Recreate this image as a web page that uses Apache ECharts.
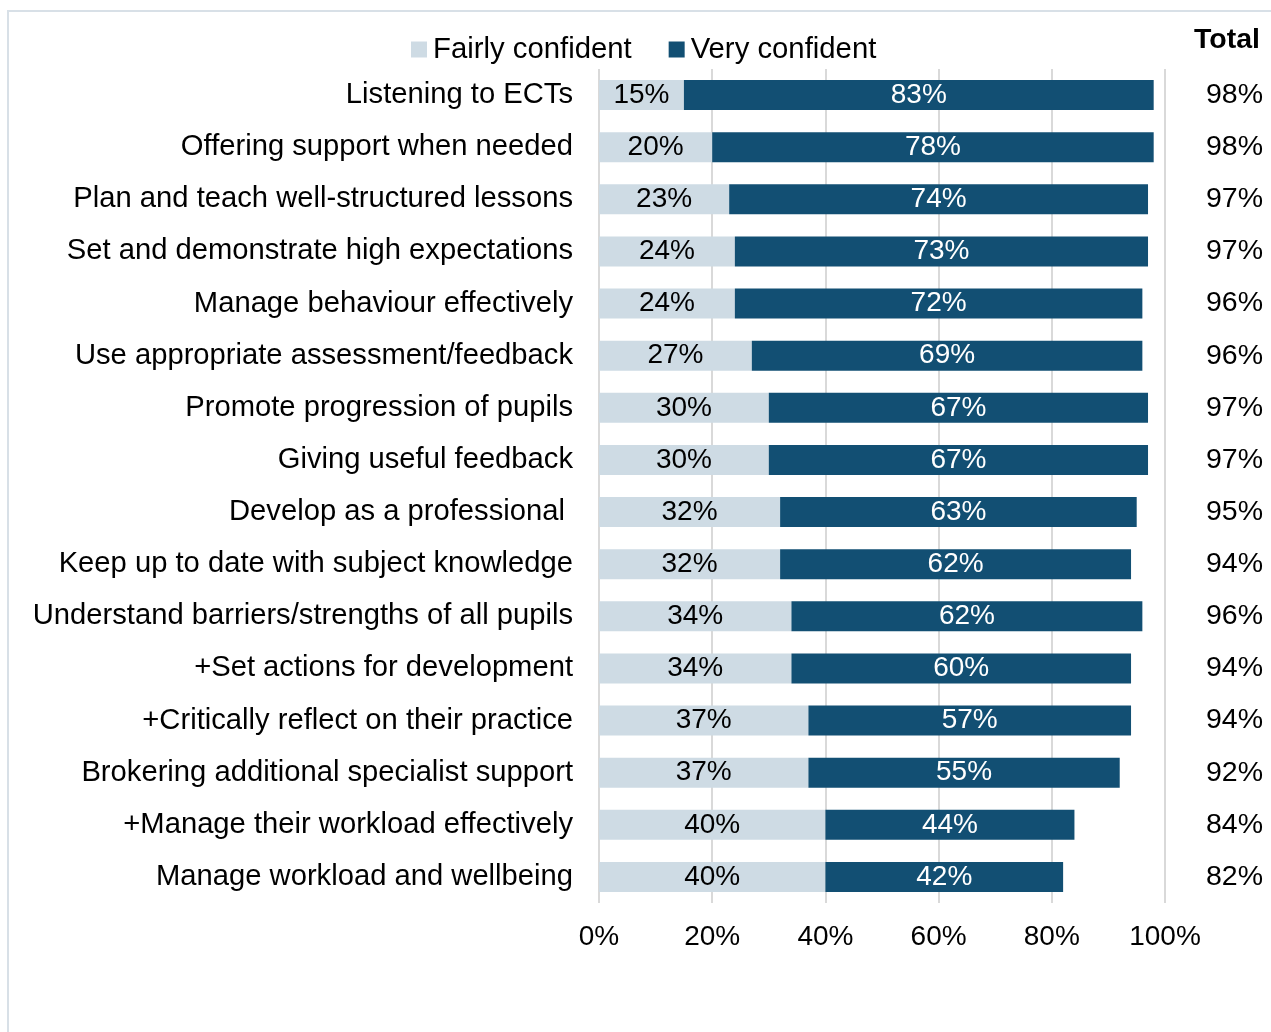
<!DOCTYPE html>
<html>
<head>
<meta charset="utf-8">
<script src="https://cdn.jsdelivr.net/npm/echarts@6/dist/echarts.min.js"></script>
<style>
html,body{margin:0;padding:0;background:#fff;}
#frame{position:absolute;left:7px;top:10px;width:1300px;height:1100px;border-left:2px solid #d8e0e7;border-top:2px solid #d8e0e7;}
#chart{position:absolute;left:0;top:0;width:1271px;height:1032px;}
</style>
</head>
<body>
<div id="frame"></div>
<div id="chart"></div>
<script>
const categories = [
  "Listening to ECTs",
  "Offering support when needed",
  "Plan and teach well-structured lessons",
  "Set and demonstrate high expectations",
  "Manage behaviour effectively",
  "Use appropriate assessment/feedback",
  "Promote progression of pupils",
  "Giving useful feedback",
  "Develop as a professional ",
  "Keep up to date with subject knowledge",
  "Understand barriers/strengths of all pupils",
  "+Set actions for development",
  "+Critically reflect on their practice",
  "Brokering additional specialist support",
  "+Manage their workload effectively",
  "Manage workload and wellbeing"
];
const fairlyConfident = [15,20,23,24,24,27,30,30,32,32,34,34,37,37,40,40];
const veryConfident   = [83,78,74,73,72,69,67,67,63,62,62,60,57,55,44,42];
const totals          = [98,98,97,97,96,96,97,97,95,94,96,94,94,92,84,82];
const xTicks = [0,20,40,60,80,100];

const FONT = "'Liberation Sans', Arial, sans-serif";
const chart = echarts.init(document.getElementById('chart'));
chart.setOption({
  animation: false,
  textStyle: {fontFamily: FONT},
  title: {
    text: 'Total', right: 6, top: 21,
    textStyle: {fontFamily: FONT, fontSize: 28.5, fontWeight: 'bold', color: '#000'}
  },
  legend: {
    left: 406, top: 30,
    itemWidth: 16, itemHeight: 16, itemGap: 37,
    icon: 'rect',
    textStyle: {fontFamily: FONT, fontSize: 29.3, color: '#000', padding: [0,0,0,1]},
    data: ['Fairly confident', 'Very confident']
  },
  grid: {left: 599, right: 106, top: 69, bottom: 129, containLabel: false},
  xAxis: {
    type: 'value', min: 0, max: 100, interval: 20,
    axisLine: {show: false}, axisTick: {show: false},
    splitLine: {show: true, lineStyle: {color: '#d9d9d9', width: 2}},
    axisLabel: {
      fontFamily: FONT, fontSize: 28, color: '#000', margin: 20,
      formatter: v => xTicks.includes(v) ? v + '%' : ''
    }
  },
  yAxis: [{
    type: 'category', data: categories, inverse: true,
    axisLine: {show: false}, axisTick: {show: false},
    axisLabel: {fontFamily: FONT, fontSize: 29.2, color: '#000', margin: 26}
  }, {
    type: 'category', data: totals.map(v => v + '%'), inverse: true,
    position: 'right',
    axisLine: {show: false}, axisTick: {show: false},
    axisLabel: {fontFamily: FONT, fontSize: 28.5, color: '#000', margin: 98, align: 'right'}
  }],
  series: [{
    name: 'Fairly confident', type: 'bar', stack: 'a', barWidth: 30,
    data: fairlyConfident,
    itemStyle: {color: '#cedbe4'},
    label: {show: true, position: 'inside', formatter: '{c}%', fontFamily: FONT, fontSize: 28, color: '#000'}
  }, {
    name: 'Very confident', type: 'bar', stack: 'a', barWidth: 30,
    data: veryConfident,
    itemStyle: {color: '#124f73'},
    label: {show: true, position: 'inside', formatter: '{c}%', fontFamily: FONT, fontSize: 28, color: '#fff'}
  }]
});
</script>
</body>
</html>
